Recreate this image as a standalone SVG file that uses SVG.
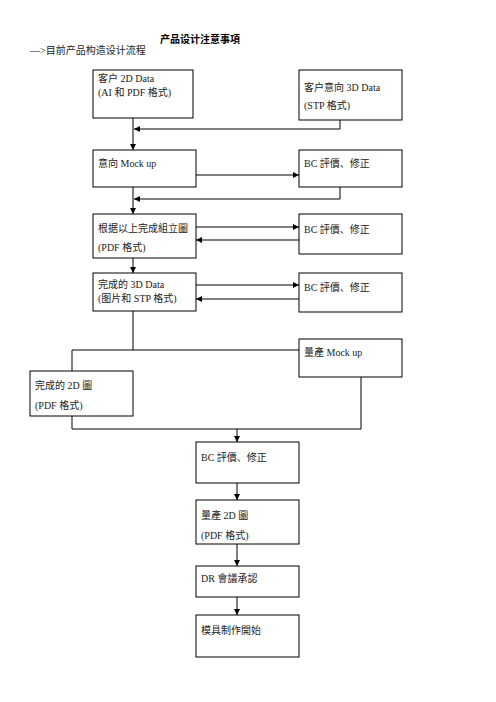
<svg xmlns="http://www.w3.org/2000/svg" width="496" height="702" viewBox="0 0 496 702">
<style>
.box{fill:#fff;stroke:#000;stroke-width:1}
.t{font-family:"Liberation Serif","Noto Sans CJK SC",serif;font-size:10px;fill:#222}
.c{fill:none;stroke:#000;stroke-width:1}
.title{font-family:"Liberation Serif","Noto Sans CJK SC",serif;font-size:10px;font-weight:bold;fill:#000}
</style>
<defs>
<marker id="ah" markerUnits="userSpaceOnUse" markerWidth="6" markerHeight="6" refX="6" refY="3" orient="auto">
<path d="M0,0 L6,3 L0,6 z" fill="#000"/>
</marker>
</defs>
<rect width="496" height="702" fill="#fff"/>
<text class="title" x="160" y="43">产品设计注意事項</text>
<text class="t" x="30" y="54" fill="#444">—&gt;目前产品构造设计流程</text>

<g id="connectors">
<line class="c" x1="133" y1="118" x2="133" y2="150" marker-end="url(#ah)"/>
<polyline class="c" points="340,120 340,129 134,129" marker-end="url(#ah)"/>
<line class="c" x1="196" y1="175" x2="299" y2="175" marker-end="url(#ah)"/>
<polyline class="c" points="340,187 340,199 134,199" marker-end="url(#ah)"/>
<line class="c" x1="133" y1="187" x2="133" y2="214" marker-end="url(#ah)"/>
<line class="c" x1="196" y1="227" x2="299" y2="227" marker-end="url(#ah)"/>
<line class="c" x1="299" y1="240" x2="196" y2="240" marker-end="url(#ah)"/>
<line class="c" x1="133" y1="258" x2="133" y2="273" marker-end="url(#ah)"/>
<line class="c" x1="196" y1="285" x2="299" y2="285" marker-end="url(#ah)"/>
<line class="c" x1="299" y1="299" x2="196" y2="299" marker-end="url(#ah)"/>
<line class="c" x1="133" y1="311" x2="133" y2="350"/>
<polyline class="c" points="299,350 72,350 72,371"/>
<polyline class="c" points="72,416 72,429 361,429 361,377"/>
<line class="c" x1="237" y1="429" x2="237" y2="442" marker-end="url(#ah)"/>
<line class="c" x1="237" y1="483" x2="237" y2="500" marker-end="url(#ah)"/>
<line class="c" x1="237" y1="544" x2="237" y2="566" marker-end="url(#ah)"/>
<line class="c" x1="237" y1="597" x2="237" y2="615" marker-end="url(#ah)"/>
</g>

<g id="n1"><rect class="box" x="93" y="70" width="100" height="48"/>
<text class="t" x="98" y="82">客户 2D Data</text><text class="t" x="98" y="96">(AI 和 PDF 格式)</text></g>
<g id="n2"><rect class="box" x="299" y="70" width="103" height="50"/>
<text class="t" x="304" y="91">客户意向 3D Data</text><text class="t" x="304" y="109">(STP 格式)</text></g>
<g id="n3"><rect class="box" x="93" y="150" width="103" height="37"/>
<text class="t" x="98" y="167">意向 Mock up</text></g>
<g id="n4"><rect class="box" x="299" y="150" width="103" height="37"/>
<text class="t" x="304" y="167">BC 評價、修正</text></g>
<g id="n5"><rect class="box" x="93" y="214" width="103" height="44"/>
<text class="t" x="98" y="232">根据以上完成組立圖</text><text class="t" x="98" y="251">(PDF 格式)</text></g>
<g id="n6"><rect class="box" x="299" y="214" width="103" height="40"/>
<text class="t" x="304" y="233">BC 評價、修正</text></g>
<g id="n7"><rect class="box" x="93" y="273" width="103" height="38"/>
<text class="t" x="98" y="288">完成的 3D Data</text><text class="t" x="98" y="302">(图片和 STP 格式)</text></g>
<g id="n8"><rect class="box" x="299" y="273" width="103" height="39"/>
<text class="t" x="304" y="291">BC 評價、修正</text></g>
<g id="n9"><rect class="box" x="299" y="339" width="103" height="38"/>
<text class="t" x="304" y="356">量產 Mock up</text></g>
<g id="n10"><rect class="box" x="30" y="371" width="103" height="45"/>
<text class="t" x="35" y="389">完成的  2D 圖</text><text class="t" x="35" y="409">(PDF 格式)</text></g>
<g id="n11"><rect class="box" x="196" y="442" width="103" height="41"/>
<text class="t" x="201" y="461">BC 評價、修正</text></g>
<g id="n12"><rect class="box" x="196" y="500" width="103" height="44"/>
<text class="t" x="201" y="519">量產 2D 圖</text><text class="t" x="201" y="539">(PDF 格式)</text></g>
<g id="n13"><rect class="box" x="196" y="566" width="103" height="31"/>
<text class="t" x="201" y="582">DR 會議承認</text></g>
<g id="n14"><rect class="box" x="196" y="615" width="103" height="42"/>
<text class="t" x="201" y="634">模具制作開始</text></g>
</svg>
